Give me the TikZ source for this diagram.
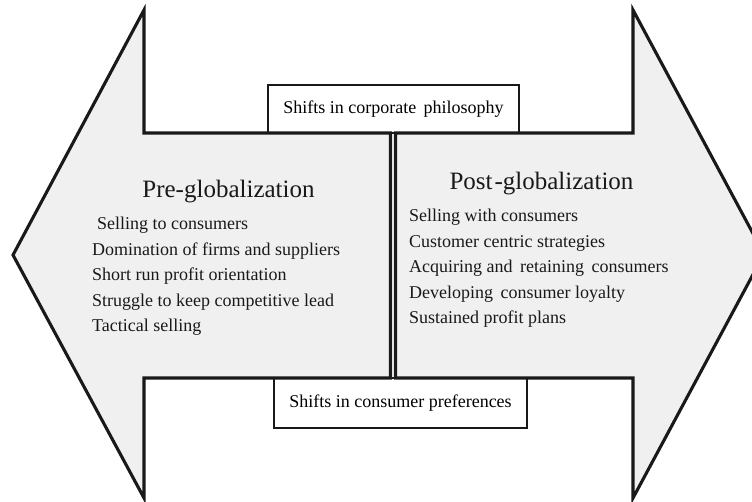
\documentclass[tikz,border=0pt]{standalone}
\usepackage{fontspec}
\setmainfont{Liberation Serif}
\begin{document}
\begin{tikzpicture}[x=1pt,y=-1pt,
  arrowshape/.style={draw=black!90, fill=black!6, line width=3.1pt, line join=miter},
  labelbox/.style={draw=black!90, fill=white, line width=1.5pt, rectangle, inner sep=0pt, font=\fontsize{18}{22}\selectfont},
  item/.style={anchor=base west, inner sep=0pt, font=\fontsize{18}{22}\selectfont, text=black!90},
  title/.style={anchor=base, inner sep=0pt, font=\fontsize{25}{30}\selectfont, text=black!90}]
\useasboundingbox (0,0) rectangle (752,502);
\clip (0,0) rectangle (752,502);
% label boxes
\node[labelbox, minimum width=251pt, minimum height=48pt] (corp) at (393.5,109) {Shifts in corporate\hspace{3pt} philosophy};
\node[labelbox, minimum width=253pt, minimum height=50pt] (cons) at (400.5,403) {Shifts in consumer preferences};
% arrows
\draw[arrowshape] (13,255) -- (144,10) -- (144,133) -- (390.5,133) -- (390.5,378) -- (144,378) -- (144,498) -- cycle;
\draw[arrowshape] (395.5,133) -- (633,133) -- (633,10) -- (764,254) -- (633,498) -- (633,378) -- (395.5,378) -- cycle;
% titles
\node[title] (pre) at (228.5,198) {Pre-globalization};
\node[title] (post) at (541.5,190) {Post\kern2pt-globalization};
% left items
\node[item] (l1) at (97,230) {Selling to consumers};
\node[item] (l2) at (92,255.5) {Domination of firms and suppliers};
\node[item] (l3) at (92,281) {Short run profit orientation};
\node[item] (l4) at (92,306.5) {Struggle to keep competitive lead};
\node[item] (l5) at (92,332) {Tactical selling};
% right items
\node[item] (r1) at (409,222) {Selling with consumers};
\node[item] (r2) at (409,247.5) {Customer centric strategies};
\node[item] (r3) at (409,273) {Acquiring and\hspace{3pt} retaining\hspace{3pt} consumers};
\node[item] (r4) at (409,298.5) {Developing\hspace{3pt} consumer loyalty};
\node[item] (r5) at (409,324) {Sustained profit plans};
\end{tikzpicture}
\end{document}
